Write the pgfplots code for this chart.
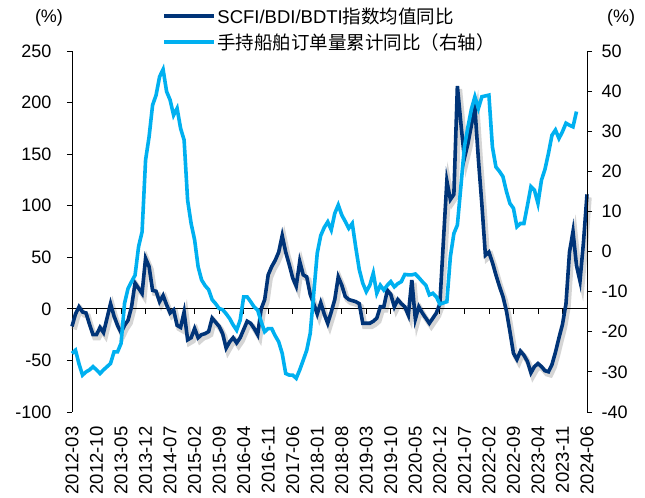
\documentclass[border=0pt]{standalone}
\usepackage{fontspec}
\setmainfont{Liberation Sans}
\newfontfamily\cjk{Noto Sans CJK SC}
\usepackage{pgfplots}
\pgfplotsset{compat=1.18}
\usepackage{pgfplotstable}
\usetikzlibrary{calc}
\definecolor{navy}{RGB}{0,52,120}
\definecolor{sky}{RGB}{0,176,240}

\pgfplotstableread{
i v
0 -17
1 -5
2 2
3 -3
4 -4
5 -15
6 -25
7 -25
8 -18
9 -23
10 -9
11 5
12 -7
13 -16
14 -23
15 -16
16 -11
17 2
18 25
19 20
20 15
21 49
22 41
23 18
24 17
25 7
26 13
27 4
28 -4
29 -1
30 -16
31 -18
32 -3
33 -30
34 -28
35 -19
36 -28
37 -25
38 -24
39 -22
40 -9
41 -13
42 -17
43 -24
44 -38
45 -32
46 -28
47 -33
48 -28
49 -20
50 -12
51 -14
52 -19
53 -25
54 0
55 9
56 33
57 41
58 47
59 55
60 71
61 55
62 43
63 30
64 22
65 46
66 33
67 31
68 14
69 5
70 -5
71 6
72 -5
73 -14
74 -3
75 9
76 31
77 23
78 12
79 9
80 8
81 7
82 5
83 -14
84 -14
85 -14
86 -12
87 -9
88 2
89 2
90 18
91 14
92 2
93 9
94 5
95 2
96 -6
97 28
98 -10
99 2
100 -4
101 -9
102 -14
103 -9
104 -4
105 5
106 65
107 124
108 106
109 111
110 216
111 180
112 146
113 160
114 178
115 195
116 145
117 101
118 52
119 55
120 45
121 33
122 22
123 12
124 -2
125 -22
126 -43
127 -49
128 -41
129 -45
130 -51
131 -62
132 -56
133 -53
134 -56
135 -60
136 -61
137 -54
138 -42
139 -28
140 -15
141 5
142 55
143 75
144 42
145 27
146 65
147 111
}\dark

\pgfplotstableread{
i v
0 -25.4
1 -24.6
2 -28
3 -30.8
4 -30
5 -29.5
6 -28.7
7 -29.5
8 -30.4
9 -29.5
10 -28.7
11 -27.9
12 -25
13 -25
14 -22.9
15 -12.9
16 -9.2
17 -7.5
18 -5.9
19 1.2
20 4.9
21 22.8
22 28.6
23 36.5
24 39
25 43.6
26 45.4
27 39.9
28 37.8
29 34
30 35.7
31 30.7
32 27.8
33 12.8
34 7
35 2.9
36 -3.8
37 -7.1
38 -8.5
39 -9.5
40 -12
41 -13
42 -14.2
43 -14.5
44 -15.5
45 -16.7
46 -18.3
47 -19.6
48 -17.1
49 -11.3
50 -11.3
51 -12.5
52 -13.8
53 -14.6
54 -17.5
55 -20
56 -19.2
57 -19.2
58 -21
59 -22.5
60 -25.4
61 -30.4
62 -30.8
63 -30.8
64 -31.6
65 -29.5
66 -27.1
67 -24.6
68 -20.4
69 -10.4
70 -0.4
71 4
72 6
73 7.4
74 5.4
75 9.5
76 11.6
77 9.1
78 7.5
79 5.8
80 7
81 1
82 -4.5
83 -7.9
84 -10
85 -8.4
86 -5.4
87 -10.4
88 -8.4
89 -9.6
90 -8.4
91 -7.5
92 -8.8
93 -8
94 -7.5
95 -5.7
96 -5.8
97 -5.8
98 -5.6
99 -6.5
100 -7.5
101 -8.4
102 -10.8
103 -10.4
104 -11.3
105 -13.1
106 -12.8
107 -12.5
108 -1.3
109 4.5
110 6.6
111 16.2
112 26.1
113 31
114 35.5
115 38.6
116 35.7
117 38.6
118 38.8
119 39
120 26.1
121 21.1
122 20
123 18.7
124 15
125 12
126 10.8
127 6.2
128 7
129 7
130 11.5
131 16.2
132 15.3
133 12
134 17.8
135 20.5
136 24.5
137 29
138 30.3
139 28.2
140 29.9
141 32
142 31.5
143 31.1
144 34.9
}\light

\begin{document}
\begin{tikzpicture}
\pgfplotsset{every tick label/.append style={font=\fontsize{18}{21}\selectfont}}
\begin{axis}[name=main, scale only axis, width=515pt, height=361pt,
  xmin=0, xmax=147, ymin=-100, ymax=250, clip=false,
  axis y line*=left, axis x line*=bottom,
  x axis line style={draw=none},
  y axis line style={line width=0.8pt},
  ytick={-100,-50,0,50,100,150,200,250},
  yticklabels={-100,-50,0,50,100,150,200,250},
  xtick={0,7,...,147},
  xticklabels={2012-03,2012-10,2013-05,2013-12,2014-07,2015-02,2015-09,2016-04,2016-11,2017-06,2018-01,2018-08,2019-03,2019-10,2020-05,2020-12,2021-07,2022-02,2022-09,2023-04,2023-11,2024-06},
  xtick style={draw=none},
  ytick style={line width=0.8pt, black},
  tick align=outside, major tick length=5pt,
  xticklabel style={yshift=-6pt, rotate=90, anchor=east, font=\fontsize{18.5}{20}\selectfont},
  yticklabel style={xshift=-12pt},
]
\addplot[black!55, opacity=0.3, line width=5.5pt, xshift=2pt, yshift=-3pt] table[x=i,y=v]{\dark};
\draw[line width=0.8pt] (axis cs:0,0) -- (axis cs:147,0);
\pgfplotsinvokeforeach{0,7,...,147}{\draw[line width=0.8pt] (axis cs:#1,0) -- ++(0pt,-5pt);}
\addplot[navy, line width=3.6pt] table[x=i,y=v]{\dark};
\end{axis}
\begin{axis}[scale only axis, width=515pt, height=361pt,
  xmin=0, xmax=147, ymin=-40, ymax=50, clip=false,
  axis y line*=right, axis x line=none,
  y axis line style={line width=0.8pt},
  ytick={-40,-30,-20,-10,0,10,20,30,40,50},
  yticklabels={-40,-30,-20,-10,0,10,20,30,40,50},
  ytick style={line width=0.8pt, black},
  tick align=outside, major tick length=5pt,
  yticklabel style={xshift=6pt},
  legend style={at={(0.175,1.125)}, anchor=north west, draw=none, fill=none,
    inner sep=0pt, row sep=6pt, font=\fontsize{18.5}{21}\selectfont,
    nodes={inner sep=1.5pt}},
  legend cell align=left,
  legend image code/.code={\draw[#1] (0pt,0pt) -- (50pt,0pt);},
]
\addlegendimage{navy, line width=3.6pt}
\addlegendentry{SCFI/BDI/BDTI{\cjk 指数均值同比}}
\addplot[sky, line width=3.6pt] table[x=i,y=v]{\light};
\addlegendentry{{\cjk 手持船舶订单量累计同比（右轴）}}
\end{axis}
\node[font=\fontsize{18}{21}\selectfont] at ($(main.north west)+(-23pt,33pt)$) {(\%)};
\node[font=\fontsize{18}{21}\selectfont] at ($(main.north east)+(34pt,33pt)$) {(\%)};
\path ($(main.south west)+(-72pt,-83pt)$) rectangle ($(main.north east)+(58pt,51pt)$);
\end{tikzpicture}
\end{document}
